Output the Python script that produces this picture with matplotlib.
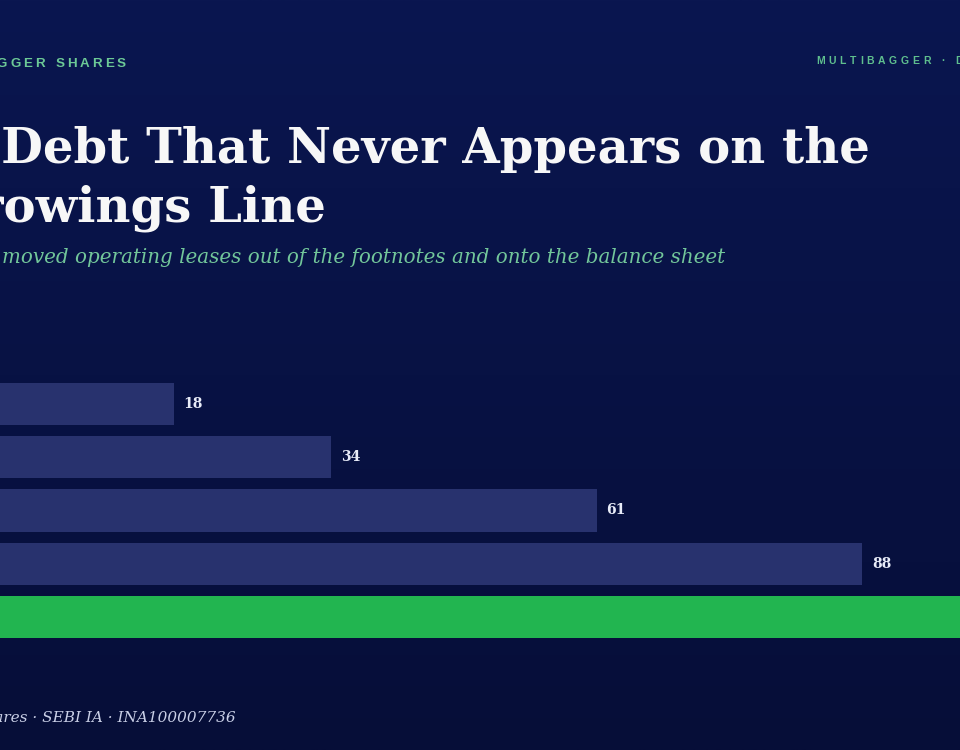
import matplotlib
matplotlib.use("Agg")
import matplotlib.pyplot as plt
import numpy as np

# data (lease liabilities, bars top to bottom)
values = [18, 34, 61, 88, 112]
bar_colors = ["#28326e", "#28326e", "#28326e", "#28326e", "#22b550"]
value_labels = ["18", "34", "61", "88", "112"]

title_line1 = "The Debt That Never Appears on the"
title_line2 = "Borrowings Line"
subtitle = "moved operating leases out of the footnotes and onto the balance sheet"
brand_left = "MULTIBAGGER SHARES"
brand_right = "MULTIBAGGER · DEEP DIVE"
footer = "Multibagger Shares · SEBI IA · INA100007736"

W, H = 960, 750
fig = plt.figure(figsize=(9.6, 7.5), dpi=100)

# background gradient
bg = fig.add_axes([0, 0, 1, 1], zorder=0)
top = np.array([10, 22, 80]) / 255
bot = np.array([6, 14, 56]) / 255
t = np.linspace(0, 1, 256)[:, None]
grad = top[None, None, :] * (1 - t[..., None]) + bot[None, None, :] * t[..., None]
grad = np.repeat(grad, 2, axis=1)
bg.imshow(grad, aspect="auto", extent=[0, 1, 0, 1])
bg.set_xlim(0, 1)
bg.set_ylim(0, 1)
bg.axis("off")


def px(x, y):
    return x / W, 1 - y / H


renderer = fig.canvas.get_renderer()


def spaced(x, y, s, size, color, spacing, ha="left", **kw):
    """Draw s with extra letter spacing (pixels); x is left or right edge."""
    widths = []
    for ch in s:
        tt = fig.text(0, 0, ch if ch != " " else "n", fontsize=size, **kw)
        w = tt.get_window_extent(renderer).width
        if ch == " ":
            w *= 0.5
        widths.append(w)
        tt.remove()
    total = sum(widths) + spacing * (len(s) - 1)
    cx = x - total if ha == "right" else x
    for ch, w in zip(s, widths):
        if ch != " ":
            fig.text(cx / W, 1 - y / H, ch, fontsize=size, color=color,
                     va="baseline", ha="left", zorder=5, **kw)
        cx += w + spacing


# header brand marks
spaced(126, 67, brand_left, 9.6, "#6cc996", 3.0, ha="right",
       family="Liberation Sans", fontweight="bold")
spaced(816, 64, brand_right, 7.5, "#5fbf8e", 3.7,
       family="Liberation Sans", fontweight="bold")

# title, two lines, right ends as in the picture
fig.text(*px(870, 163), title_line1, ha="right", va="baseline", fontsize=34.7,
         family="DejaVu Serif", fontweight="bold", color="#f7f7f7", zorder=5)
fig.text(*px(326, 222), title_line2, ha="right", va="baseline", fontsize=34.7,
         family="DejaVu Serif", fontweight="bold", color="#f7f7f7", zorder=5)

fig.text(*px(725, 263), subtitle, ha="right", va="baseline", fontsize=14.3,
         family="DejaVu Serif", style="italic", color="#72c69a", zorder=5)

fig.text(*px(236, 722), footer, ha="right", va="baseline", fontsize=11,
         family="DejaVu Serif", style="italic", color="#c9cfe6", zorder=5)

# bars: x zero sits just left of the canvas, 9.83 px per unit
ax = fig.add_axes([-3 / W, 100 / H, 983 / W, 280 / H], zorder=2)
ax.patch.set_alpha(0)
pos = np.arange(len(values))
ax.barh(pos, values, height=0.79, color=bar_colors)
ax.set_xlim(0, 100)
ax.set_ylim(4.62, -0.638)
for p, v, lab in zip(pos, values, value_labels):
    ax.annotate(lab, xy=(v, p), xytext=(7, 0), textcoords="offset points",
                ha="left", va="center", fontsize=10, fontweight="bold",
                family="DejaVu Serif", color="#e8ecf8")
ax.axis("off")

fig.savefig("out.png", dpi=100)
